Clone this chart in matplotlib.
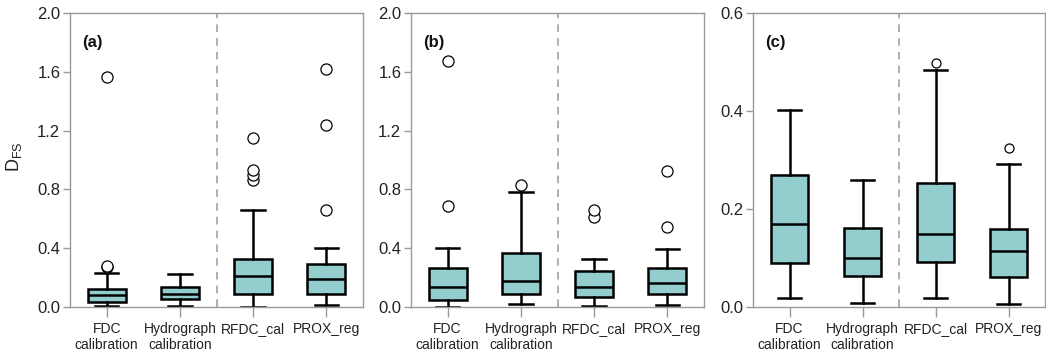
import matplotlib
matplotlib.use("Agg")
import matplotlib.pyplot as plt

plt.rcParams["font.family"] = ["Liberation Sans", "DejaVu Sans"]

rotulos = ["FDC\ncalibration", "Hydrograph\ncalibration", "RFDC_cal", "PROX_reg"]
paineis = ["(a)", "(b)", "(c)"]

# estatisticas: whislo, q1, med, q3, whishi
stats_a = [
    [0.007, 0.034, 0.079, 0.125, 0.234],
    [0.007, 0.052, 0.091, 0.134, 0.227],
    [0.002, 0.089, 0.211, 0.325, 0.660],
    [0.011, 0.089, 0.188, 0.290, 0.404],
]
fliers_a = [[0.27, 0.28, 1.564], [], [0.865, 0.901, 0.933, 1.153], [0.66, 1.24, 1.619]]

stats_b = [
    [0.002, 0.045, 0.134, 0.268, 0.402],
    [0.020, 0.089, 0.177, 0.370, 0.785],
    [0.009, 0.070, 0.138, 0.247, 0.329],
    [0.011, 0.086, 0.161, 0.263, 0.397],
]
fliers_b = [[0.688, 1.673], [0.831], [0.61, 0.66], [0.543, 0.924]]

stats_c = [
    [0.018, 0.089, 0.170, 0.270, 0.402],
    [0.009, 0.063, 0.100, 0.161, 0.260],
    [0.018, 0.091, 0.148, 0.253, 0.483],
    [0.006, 0.062, 0.115, 0.159, 0.292],
]
fliers_c = [[], [], [0.498], [0.325]]

limites = [2.0, 2.0, 0.6]
ticks = [[0, 0.4, 0.8, 1.2, 1.6, 2.0], [0, 0.4, 0.8, 1.2, 1.6, 2.0], [0, 0.2, 0.4, 0.6]]
tam_marcador = [8, 8, 6.5]

cinza = "#9a9a9a"
cor_caixa = "#93cdcd"

fig = plt.figure(figsize=(10.46, 3.58), dpi=100)
esquerdas = [70, 411, 753]
larguras = [293, 293, 292]

todos_stats = [stats_a, stats_b, stats_c]
todos_fliers = [fliers_a, fliers_b, fliers_c]

for i in range(3):
    ax = fig.add_axes([esquerdas[i] / 1046, 1 - 307 / 358, larguras[i] / 1046, 294 / 358])

    bxp_stats = []
    for s, f, lab in zip(todos_stats[i], todos_fliers[i], rotulos):
        bxp_stats.append({
            "whislo": s[0], "q1": s[1], "med": s[2], "q3": s[3], "whishi": s[4],
            "fliers": f, "label": lab
        })

    ax.bxp(
        bxp_stats, positions=[1, 2, 3, 4], widths=0.52, patch_artist=True,
        boxprops={"facecolor": cor_caixa, "edgecolor": "black", "linewidth": 1.8},
        medianprops={"color": "black", "linewidth": 1.8},
        whiskerprops={"color": "black", "linewidth": 1.8},
        capprops={"color": "black", "linewidth": 1.8},
        capwidths=0.32,
        flierprops={"marker": "o", "markerfacecolor": "white", "markeredgecolor": "black",
                    "markersize": tam_marcador[i], "markeredgewidth": 0.9},
    )

    ax.axvline(2.5, color=cinza, linestyle=(0, (5, 4)), linewidth=1.1, zorder=0)

    ax.set_xlim(0.5, 4.5)
    ax.set_ylim(0, limites[i])
    ax.set_yticks(ticks[i])
    ax.set_yticklabels([f"{t:.1f}" for t in ticks[i]])

    for sp in ax.spines.values():
        sp.set_color(cinza)
        sp.set_linewidth(1.0)

    ax.tick_params(axis="y", colors=cinza, labelcolor="#222222", length=5, width=1, labelsize=12, pad=2)
    ax.tick_params(axis="x", colors=cinza, labelcolor="#222222", length=7, width=1, labelsize=10, pad=4)

    ax.text(0.04, 0.9, paineis[i], transform=ax.transAxes, fontsize=12, fontweight="bold",
            color="#111111", va="center")

fig.text(14 / 1046, 1 - 157 / 358, r"D$_{\mathregular{FS}}$", rotation=90, fontsize=13,
         ha="center", va="center", color="#222222")

plt.savefig("out.png", dpi=100)
plt.close()
